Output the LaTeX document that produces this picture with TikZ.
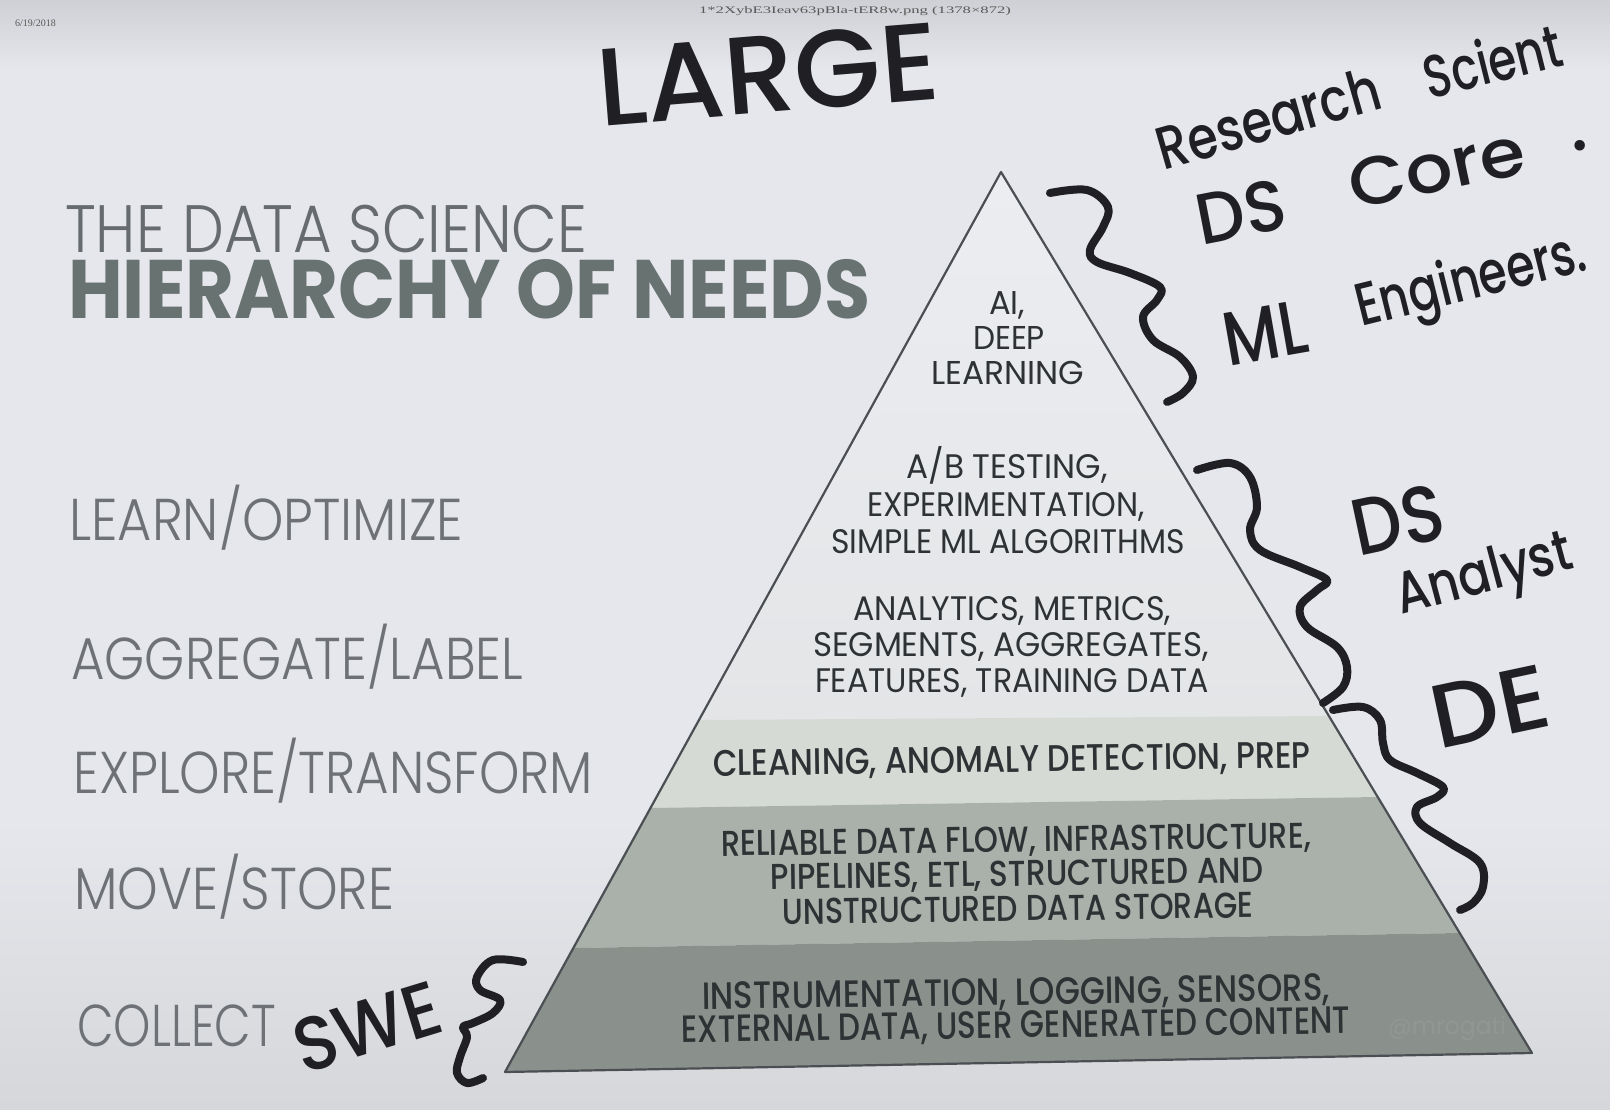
\documentclass[tikz,border=0pt]{standalone}
\usepackage{graphicx}
\usepackage{fontspec}
\setmainfont{Poppins}
\newfontfamily\lightfont{Poppins Light}
\newfontfamily\mediumfont{Poppins Medium}
\newfontfamily\handfont{Poppins Medium}
\newfontfamily\notefont{Liberation Serif}

% squeeze or stretch a line horizontally to a given width (in pt)
\newsavebox\fitbox
\newcommand\fitw[2]{\sbox\fitbox{#2}\pgfmathsetmacro\fitscale{#1/\the\wd\fitbox}\scalebox{\fitscale}[1]{\usebox\fitbox}}

\definecolor{bgmid}{HTML}{E6E7EC}
\definecolor{bgtop}{HTML}{CFD0D5}
\definecolor{bgbot}{HTML}{D6D7DA}
\definecolor{lblgray}{HTML}{6E7176}
\definecolor{titlegray}{HTML}{666B6F}
\definecolor{boldgray}{HTML}{687271}
\definecolor{pyrtext}{HTML}{2E3234}
\definecolor{edge}{HTML}{4B4E52}
\definecolor{bandtop}{HTML}{ECEDF1}
\definecolor{bandtopb}{HTML}{E3E5E7}
\definecolor{bandclean}{HTML}{D5DAD5}
\definecolor{bandflow}{HTML}{A9B1AA}
\definecolor{bandcollect}{HTML}{8A918C}
\definecolor{ink}{HTML}{1F1F24}

\tikzset{
  lbl/.style={inner sep=0pt, anchor=base west, text=lblgray, font=\lightfont\fontsize{59}{60}\selectfont},
  ptxt/.style={inner sep=0pt, anchor=base, text=pyrtext},
  hand/.style={inner sep=0pt, anchor=center, text=ink},
  brace/.style={draw=ink, line width=8pt, line cap=round, line join=round},
}

\begin{document}
\begin{tikzpicture}[x=1pt, y=-1pt]
\useasboundingbox (0,0) rectangle (1610,1110);

% photographed slide background, darker near the top and bottom edges
\fill[bgmid] (0,0) rectangle (1610,1110);
\shade[top color=bgtop, bottom color=bgmid] (0,0) rectangle (1610,70);
\shade[top color=bgmid, bottom color=bgbot] (0,820) rectangle (1610,1110);

% small print along the top edge
\node[inner sep=0pt, anchor=west, text=black!65, font=\notefont\fontsize{10}{11}\selectfont] (date) at (15,23) {6/19/2018};
\node[inner sep=0pt, anchor=center, text=black!65, font=\notefont\fontsize{10}{11}\selectfont] (fname) at (855,11) {\fitw{312}{1*2XybE3Ieav63pBla-tER8w.png (1378×872)}};

% title
\node[inner sep=0pt, anchor=base west, text=titlegray, font=\lightfont\fontsize{67}{68}\selectfont] (title1) at (65,253) {\fitw{522}{THE DATA SCIENCE}};
\node[inner sep=0pt, anchor=base west, text=boldgray, font=\bfseries\fontsize{83}{84}\selectfont] (title2) at (68,319) {\fitw{802}{HIERARCHY OF NEEDS}};

% stage labels
\node[lbl] (learn) at (69,540) {\fitw{394}{LEARN/OPTIMIZE}};
\node[lbl] (aggr) at (71,679) {\fitw{452}{AGGREGATE/LABEL}};
\node[lbl] (explore) at (73,793) {\fitw{520}{EXPLORE/TRANSFORM}};
\node[lbl] (move) at (74,909) {\fitw{320}{MOVE/STORE}};
\node[lbl] (collect) at (77,1046) {\fitw{199}{COLLECT}};

% pyramid bands
\coordinate (apex) at (1001,172);
\coordinate (bl) at (505,1072);
\coordinate (br) at (1532,1053);
\coordinate (b1l) at (699,720);   \coordinate (b1r) at (1329,716);
\coordinate (b2l) at (650.5,808); \coordinate (b2r) at (1377.7,797);
\coordinate (b3l) at (573.3,948); \coordinate (b3r) at (1459.7,933);

\shade[top color=bandtop, bottom color=bandtopb] (apex) -- (b1r) -- (b1l) -- cycle;
\fill[bandclean] (b1l) -- (b1r) -- (b2r) -- (b2l) -- cycle;
\fill[bandflow] (b2l) -- (b2r) -- (b3r) -- (b3l) -- cycle;
\fill[bandcollect] (b3l) -- (b3r) -- (br) -- (bl) -- cycle;
\draw[edge, line width=2.2pt, line join=round] (apex) -- (br) -- (bl) -- cycle;

% pyramid texts
\begin{scope}[every node/.append style={font=\fontsize{33}{34}\selectfont}]
\node[ptxt] (ai1) at (1007,314) {\fitw{36}{AI,}};
\node[ptxt] (ai2) at (1009,349) {\fitw{72}{DEEP}};
\node[ptxt] (ai3) at (1008,384) {\fitw{153}{LEARNING}};
\end{scope}
\begin{scope}[every node/.append style={font=\fontsize{34}{35}\selectfont}]
\node[ptxt] (ab1) at (1007,478) {\fitw{201}{A/B TESTING,}};
\node[ptxt] (ab2) at (1006,516) {\fitw{278}{EXPERIMENTATION,}};
\node[ptxt] (ab3) at (1008,553) {\fitw{354}{SIMPLE ML ALGORITHMS}};
\node[ptxt] (an1) at (1012,620) {\fitw{318}{ANALYTICS, METRICS,}};
\node[ptxt] (an2) at (1011,656) {\fitw{396}{SEGMENTS, AGGREGATES,}};
\node[ptxt] (an3) at (1012,692) {\fitw{394}{FEATURES, TRAINING DATA}};
\end{scope}
\begin{scope}[every node/.append style={font=\mediumfont\fontsize{37}{38}\selectfont, rotate=0.8}]
\node[ptxt] (cl1) at (1012,772) {\fitw{598}{CLEANING, ANOMALY DETECTION, PREP}};
\end{scope}
\begin{scope}[every node/.append style={font=\mediumfont\fontsize{36}{37}\selectfont, rotate=0.8}]
\node[ptxt] (fl1) at (1016,852) {\fitw{590}{RELIABLE DATA FLOW, INFRASTRUCTURE,}};
\node[ptxt] (fl2) at (1017,886) {\fitw{493}{PIPELINES, ETL, STRUCTURED AND}};
\node[ptxt] (fl3) at (1018,921) {\fitw{471}{UNSTRUCTURED DATA STORAGE}};
\end{scope}
\begin{scope}[every node/.append style={font=\mediumfont\fontsize{38}{39}\selectfont, rotate=0.8}]
\node[ptxt] (co1) at (1016,1005) {\fitw{628}{INSTRUMENTATION, LOGGING, SENSORS,}};
\node[ptxt] (co2) at (1016,1038) {\fitw{669}{EXTERNAL DATA, USER GENERATED CONTENT}};
\end{scope}
\node[inner sep=0pt, anchor=center, text=bandcollect!94!white, font=\fontsize{24}{25}\selectfont] (mark) at (1447,1029) {\fitw{118}{@mrogati}};

% marker notes, one word at a time
\node[hand, rotate=4.6, font=\handfont\fontsize{110}{111}\selectfont] (large) at (768,74) {\fitw{343}{LARGE}};
\node[hand, rotate=16, font=\handfont\fontsize{60}{61}\selectfont] (research) at (1268,118) {\fitw{230}{Research}};
\node[hand, rotate=14, font=\handfont\fontsize{60}{61}\selectfont] (scient) at (1492,60) {\fitw{140}{Scient}};
\node[hand, rotate=11, font=\handfont\fontsize{72}{73}\selectfont] (ds1) at (1241,212) {\fitw{90}{DS}};
\node[hand, rotate=12, font=\handfont\fontsize{68}{69}\selectfont] (core) at (1437,168) {\fitw{178}{Core}};
\node[hand, font=\handfont\fontsize{72}{73}\selectfont] (dot) at (1580,146) {.};
\node[hand, rotate=10, font=\handfont\fontsize{76}{77}\selectfont] (ml) at (1265,333) {\fitw{84}{ML}};
\node[hand, rotate=14, font=\handfont\fontsize{60}{61}\selectfont] (eng) at (1472,284) {\fitw{235}{Engineers.}};
\node[hand, rotate=12, font=\handfont\fontsize{80}{81}\selectfont] (ds2) at (1398,520) {\fitw{92}{DS}};
\node[hand, rotate=15, font=\handfont\fontsize{58}{59}\selectfont] (analyst) at (1485,578) {\fitw{180}{Analyst}};
\node[hand, rotate=12, font=\handfont\fontsize{90}{91}\selectfont] (de) at (1490,707) {\fitw{118}{DE}};
\node[hand, rotate=17, font=\handfont\fontsize{76}{77}\selectfont] (swe) at (367,1027) {\fitw{150}{SWE}};

% hand-drawn braces
\draw[brace] plot[smooth, tension=0.6] coordinates {(1050,193) (1087,190) (1108,207) (1103,227) (1090,250) (1097,262) (1130,273) (1160,287) (1157,300) (1143,317) (1153,340) (1180,357) (1193,377) (1183,393) (1167,402)};
\draw[brace] plot[smooth, tension=0.6] coordinates {(1197,470) (1230,463) (1250,477) (1257,507) (1250,530) (1260,550) (1300,567) (1327,580) (1317,590) (1300,607) (1307,627) (1337,647) (1347,667) (1343,687) (1323,703)};
\draw[brace] plot[smooth, tension=0.6] coordinates {(1333,710) (1363,707) (1380,720) (1383,743) (1390,760) (1417,773) (1443,787) (1437,797) (1417,807) (1420,823) (1450,843) (1480,863) (1483,887) (1473,903) (1460,910)};
\draw[brace] plot[smooth, tension=0.6] coordinates {(523,962) (493,960) (477,977) (480,990) (500,1000) (493,1013) (473,1023) (463,1027) (467,1037) (460,1057) (457,1073) (467,1083) (483,1078)};
\end{tikzpicture}
\end{document}
